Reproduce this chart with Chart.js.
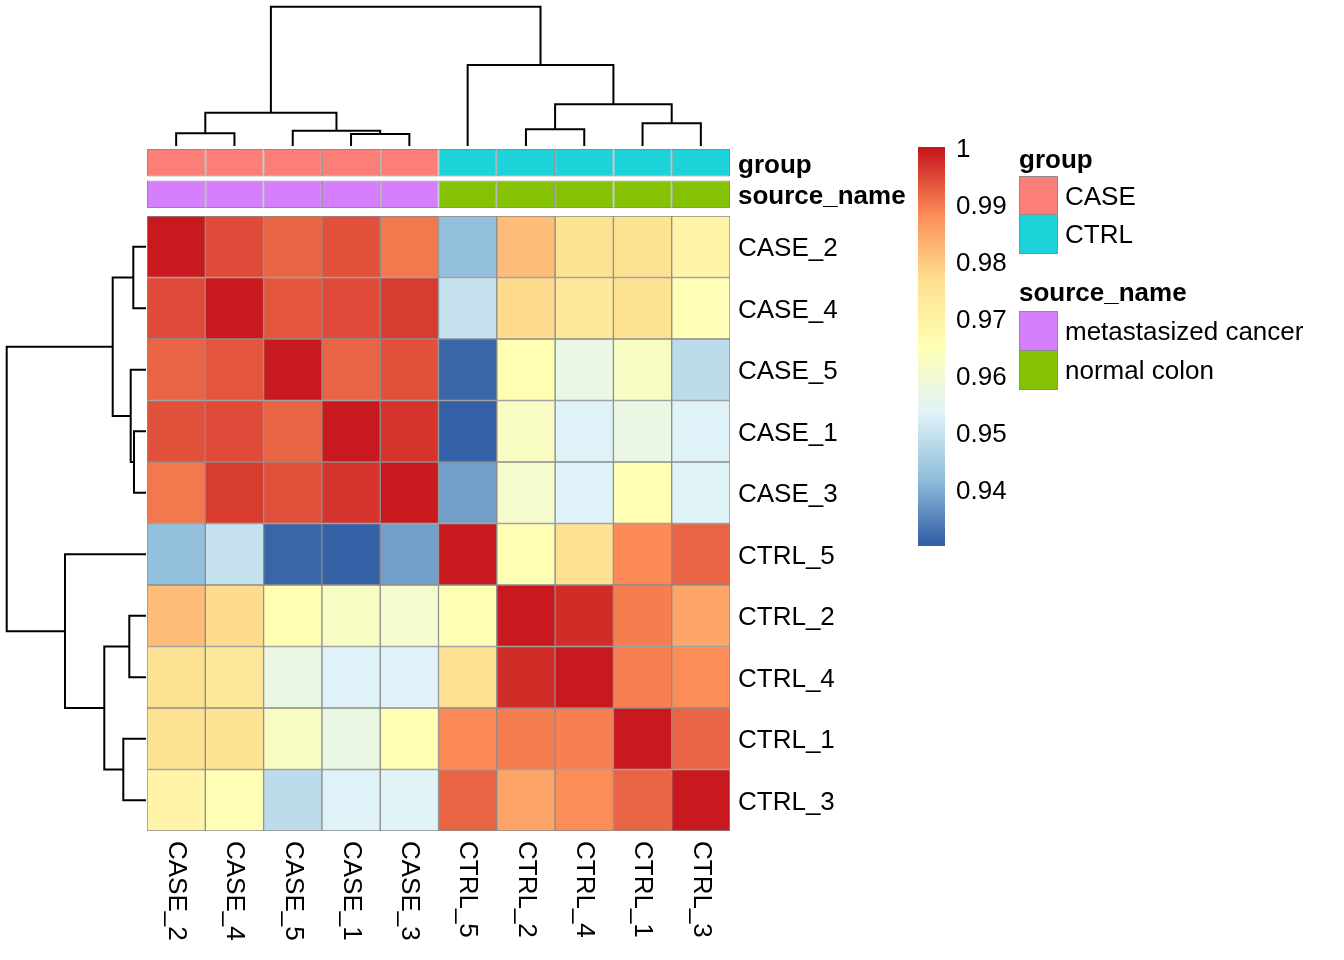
<!DOCTYPE html>
<html>
<head>
<meta charset="utf-8">
<script src="https://cdn.jsdelivr.net/npm/chart.js@4.4.0/dist/chart.umd.min.js"></script>
<style>
  body { margin: 0; background: #fff; }
  #wrap { position: relative; width: 1344px; height: 960px; overflow: hidden;
          font-family: "Liberation Sans", Arial, Helvetica, sans-serif; }
  canvas { position: absolute; }
  .lg { position: absolute; font-size: 26px; line-height: 30px; color: #000; white-space: nowrap; }
  .lg.title { font-weight: bold; }
  .box { position: absolute; box-sizing: border-box; width: 39px; height: 40px; border: 1.5px solid #8c8c8c; }
</style>
</head>
<body>
<div id="wrap">
  <canvas id="colTree" width="583" height="146" style="left:147px;top:0px"></canvas>
  <canvas id="rowTree" width="146" height="615" style="left:0px;top:216px"></canvas>
  <canvas id="annot" width="783" height="63" style="left:147px;top:147px"></canvas>
  <canvas id="heat" width="783" height="745" style="left:147px;top:216px"></canvas>
  <canvas id="scale" width="127" height="439" style="left:918px;top:127px"></canvas>
  <div id="legend"></div>
</div>
<script>
// sample order after clustering (rows and columns are the same)
const rowNames = ['CASE_2', 'CASE_4', 'CASE_5', 'CASE_1', 'CASE_3', 'CTRL_5', 'CTRL_2', 'CTRL_4', 'CTRL_1', 'CTRL_3'];
const colNames = ['CASE_2', 'CASE_4', 'CASE_5', 'CASE_1', 'CASE_3', 'CTRL_5', 'CTRL_2', 'CTRL_4', 'CTRL_1', 'CTRL_3'];

// correlation matrix, one row per sample
const corr = [
  [1.0000, 0.9950, 0.9926, 0.9945, 0.9906, 0.9428, 0.9820, 0.9761, 0.9761, 0.9694],
  [0.9950, 1.0000, 0.9940, 0.9950, 0.9965, 0.9501, 0.9777, 0.9739, 0.9762, 0.9650],
  [0.9926, 0.9940, 1.0000, 0.9926, 0.9945, 0.9316, 0.9660, 0.9578, 0.9630, 0.9489],
  [0.9945, 0.9950, 0.9926, 1.0000, 0.9973, 0.9310, 0.9630, 0.9538, 0.9578, 0.9538],
  [0.9906, 0.9965, 0.9945, 0.9973, 1.0000, 0.9387, 0.9615, 0.9538, 0.9660, 0.9545],
  [0.9428, 0.9501, 0.9316, 0.9310, 0.9387, 1.0000, 0.9655, 0.9765, 0.9888, 0.9926],
  [0.9820, 0.9777, 0.9660, 0.9630, 0.9615, 0.9655, 1.0000, 0.9980, 0.9900, 0.9852],
  [0.9761, 0.9739, 0.9578, 0.9538, 0.9538, 0.9765, 0.9980, 1.0000, 0.9898, 0.9885],
  [0.9761, 0.9762, 0.9630, 0.9578, 0.9660, 0.9888, 0.9900, 0.9898, 1.0000, 0.9926],
  [0.9694, 0.9650, 0.9489, 0.9538, 0.9545, 0.9926, 0.9852, 0.9885, 0.9926, 1.0000]
];

// annotations per column
const annRows = ['group', 'source_name'];
const annGroup = ['CASE', 'CASE', 'CASE', 'CASE', 'CASE', 'CTRL', 'CTRL', 'CTRL', 'CTRL', 'CTRL'];
const annSource = ['metastasized cancer', 'metastasized cancer', 'metastasized cancer', 'metastasized cancer', 'metastasized cancer',
                   'normal colon', 'normal colon', 'normal colon', 'normal colon', 'normal colon'];
const groupLevels = ['CASE', 'CTRL'];
const sourceLevels = ['metastasized cancer', 'normal colon'];

// hclust style merges: negative = leaf (1-based display position), positive = earlier merge
const treeMerge = [[-1, -2], [-4, -5], [-3, 2], [1, 3], [-7, -8], [-9, -10], [5, 6], [-6, 7], [4, 8]];
const treeHeight = [0.127, 0.120, 0.153, 0.333, 0.167, 0.227, 0.417, 0.810, 1.393];

// colour bar
const legendTicks = [0.94, 0.95, 0.96, 0.97, 0.98, 0.99, 1];

const colorMin = 0.931, colorMax = 1.0;
const palette = [[0, '#3460A6'], [1 / 6, '#91BFDB'], [2 / 6, '#E0F3F8'], [0.5, '#FFFFB4'],
                 [4 / 6, '#FEE090'], [5 / 6, '#FC8D59'], [1, '#C8191E']];
const annColors = {
  'CASE': '#FB7F78', 'CTRL': '#1CD3DA',
  'metastasized cancer': '#D67FFC', 'normal colon': '#86C204'
};
const cellBorder = '#8c8c8c';
const FONT = '"Liberation Sans", Arial, Helvetica, sans-serif';

Chart.defaults.font.family = FONT;
Chart.defaults.font.size = 26;
Chart.defaults.color = '#000';
Chart.defaults.animation = false;

function hexRgb(h) {
  return [1, 3, 5].map(i => parseInt(h.slice(i, i + 2), 16));
}

function valueColor(v) {
  let t = (v - colorMin) / (colorMax - colorMin);
  t = Math.max(0, Math.min(1, t));
  for (let k = 1; k < palette.length; k++) {
    if (t <= palette[k][0]) {
      const [t0, c0] = palette[k - 1], [t1, c1] = palette[k];
      const f = (t - t0) / (t1 - t0);
      const a = hexRgb(c0), b = hexRgb(c1);
      const c = a.map((x, i) => Math.round(x + (b[i] - x) * f));
      return 'rgb(' + c.join(',') + ')';
    }
  }
  return palette[palette.length - 1][1];
}

// dendrogram segments from the merge table
function treeSegments() {
  const pos = [];
  const nodePos = n => n < 0 ? -n - 1 : pos[n - 1];
  const nodeH = n => n < 0 ? 0 : treeHeight[n - 1];
  const segs = [];
  treeMerge.forEach(([a, b], k) => {
    const h = treeHeight[k];
    segs.push([[nodePos(a), nodeH(a)], [nodePos(a), h], [nodePos(b), h], [nodePos(b), nodeH(b)]]);
    pos.push((nodePos(a) + nodePos(b)) / 2);
  });
  return segs;
}

const treeStyle = {
  showLine: true, borderColor: '#000', borderWidth: 2, pointRadius: 0,
  fill: false, borderJoinStyle: 'miter', tension: 0
};

// column dendrogram
new Chart(document.getElementById('colTree'), {
  type: 'scatter',
  data: {
    datasets: treeSegments().map(s => Object.assign({
      data: s.map(([p, h]) => ({ x: p, y: h }))
    }, treeStyle))
  },
  options: {
    responsive: false,
    plugins: { legend: { display: false }, tooltip: { enabled: false } },
    scales: {
      x: { type: 'linear', min: -0.5, max: colNames.length - 0.5, display: false },
      y: { type: 'linear', min: 0, max: 1.46, display: false }
    }
  }
});

// row dendrogram
new Chart(document.getElementById('rowTree'), {
  type: 'scatter',
  data: {
    datasets: treeSegments().map(s => Object.assign({
      data: s.map(([p, h]) => ({ x: h, y: p }))
    }, treeStyle))
  },
  options: {
    responsive: false,
    plugins: { legend: { display: false }, tooltip: { enabled: false } },
    scales: {
      x: { type: 'linear', min: 0, max: 1.46, reverse: true, display: false },
      y: { type: 'linear', min: -0.5, max: rowNames.length - 0.5, reverse: true, display: false }
    }
  }
});

// fixed width axis, no extra room reserved for the first/last label
function fixAxis(w) {
  return s => { s.width = w; s.paddingTop = 0; s.paddingBottom = 0; };
}

const rightLabels = (w, bold) => ({
  type: 'category',
  position: 'right',
  offset: true,
  grid: { display: false, drawTicks: false },
  border: { display: false },
  ticks: {
    padding: 8, autoSkip: false, labelOffset: bold ? 3 : 2.5, color: '#000',
    font: { size: 26, weight: bold ? 'bold' : 'normal' }
  },
  afterFit: fixAxis(w)
});

// annotation rows
new Chart(document.getElementById('annot'), {
  type: 'bar',
  data: {
    labels: annRows,
    datasets: colNames.map((name, j) => ({
      label: name,
      data: annRows.map(() => [j, j + 1]),
      backgroundColor: [annColors[annGroup[j]], annColors[annSource[j]]],
      borderColor: cellBorder,
      borderWidth: 1,
      borderSkipped: false,
      grouped: false,
      barPercentage: 0.88,
      categoryPercentage: 1
    }))
  },
  options: {
    indexAxis: 'y',
    responsive: false,
    plugins: { legend: { display: false }, tooltip: { enabled: false } },
    scales: {
      x: { type: 'linear', min: 0, max: colNames.length, display: false },
      y: rightLabels(200, true)
    }
  }
});

// heatmap with rotated column labels underneath
const colLabels = {
  id: 'colLabels',
  afterDraw(chart) {
    const { ctx, chartArea, scales } = chart;
    ctx.save();
    ctx.fillStyle = '#000';
    ctx.font = '26px ' + FONT;
    ctx.textAlign = 'left';
    ctx.textBaseline = 'middle';
    colNames.forEach((name, j) => {
      ctx.save();
      ctx.translate(scales.x.getPixelForValue(j + 0.5), chartArea.bottom + 10);
      ctx.rotate(Math.PI / 2);
      ctx.fillText(name, 0, 0);
      ctx.restore();
    });
    ctx.restore();
  }
};

new Chart(document.getElementById('heat'), {
  type: 'bar',
  data: {
    labels: rowNames,
    datasets: colNames.map((name, j) => ({
      label: name,
      data: rowNames.map(() => [j, j + 1]),
      backgroundColor: rowNames.map((_, i) => valueColor(corr[i][j])),
      borderColor: cellBorder,
      borderWidth: 1,
      borderSkipped: false,
      grouped: false,
      barPercentage: 1,
      categoryPercentage: 1
    }))
  },
  options: {
    indexAxis: 'y',
    responsive: false,
    layout: { padding: { bottom: 130 } },
    plugins: { legend: { display: false }, tooltip: { enabled: false } },
    scales: {
      x: { type: 'linear', min: 0, max: colNames.length, display: false },
      y: rightLabels(200, false)
    }
  },
  plugins: [colLabels]
});

// colour bar
new Chart(document.getElementById('scale'), {
  type: 'bar',
  data: {
    labels: [''],
    datasets: [{
      data: [[0.9305, 1.0005]],
      backgroundColor(c) {
        const { chart } = c;
        if (!chart.chartArea) return 'transparent';
        const y = chart.scales.y;
        const g = chart.ctx.createLinearGradient(0, y.getPixelForValue(colorMin), 0, y.getPixelForValue(colorMax));
        palette.forEach(([t, col]) => g.addColorStop(t, col));
        return g;
      },
      borderWidth: 0,
      barPercentage: 1,
      categoryPercentage: 1
    }]
  },
  options: {
    responsive: false,
    layout: { padding: { top: 20, bottom: 20 } },
    plugins: { legend: { display: false }, tooltip: { enabled: false } },
    scales: {
      x: { display: false },
      y: {
        type: 'linear', min: 0.9305, max: 1.0005, position: 'right',
        grid: { display: false, drawTicks: false },
        border: { display: false },
        afterBuildTicks: s => { s.ticks = legendTicks.map(v => ({ value: v })); },
        ticks: { padding: 11, color: '#000', font: { size: 26 }, callback: v => String(+v.toFixed(2)) },
        afterFit: fixAxis(100)
      }
    }
  }
});

// annotation legend
const legend = document.getElementById('legend');
function addText(txt, left, baseline, title) {
  const d = document.createElement('div');
  d.className = 'lg' + (title ? ' title' : '');
  d.textContent = txt;
  d.style.left = left + 'px';
  d.style.top = (baseline - 24) + 'px';
  legend.appendChild(d);
}
function addBlock(title, levels, titleBase, boxTop) {
  addText(title, 1019, titleBase, true);
  levels.forEach((lv, k) => {
    const b = document.createElement('div');
    b.className = 'box';
    b.style.left = '1019px';
    b.style.top = (boxTop + k * 38.5) + 'px';
    b.style.background = annColors[lv];
    legend.appendChild(b);
    addText(lv, 1065, boxTop + k * 38.5 + 29, false);
  });
}
addBlock('group', groupLevels, 167.5, 175.5);
addBlock('source_name', sourceLevels, 301, 311);
</script>
</body>
</html>
